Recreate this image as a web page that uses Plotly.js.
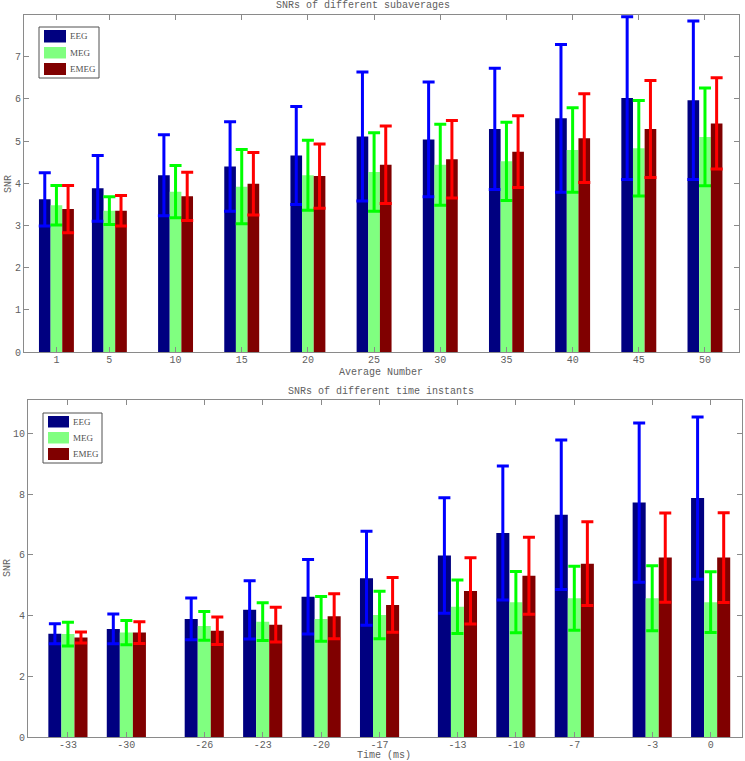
<!DOCTYPE html>
<html>
<head>
<meta charset="utf-8">
<script src="https://cdn.plot.ly/plotly-3.0.1.min.js"></script>
<style>html,body{margin:0;padding:0;background:#fff;}#chart{width:745px;height:761px;}</style>
</head>
<body>
<div id="chart"></div>
<script>
// ---- Data: SNRs of different subaverages ----
const avgNumbers = [1, 5, 10, 15, 20, 25, 30, 35, 40, 45, 50];
const avgLabels = ["1", "5", "10", "15", "20", "25", "30", "35", "40", "45", "50"];
const eegAvg = [3.62, 3.88, 4.19, 4.40, 4.66, 5.11, 5.04, 5.29, 5.54, 6.02, 5.97];
const eegAvgErr = [0.63, 0.78, 0.96, 1.06, 1.16, 1.53, 1.36, 1.44, 1.75, 1.93, 1.88];
const megAvg = [3.48, 3.35, 3.80, 3.92, 4.19, 4.27, 4.44, 4.52, 4.79, 4.83, 5.10];
const megAvgErr = [0.47, 0.33, 0.62, 0.88, 0.83, 0.93, 0.96, 0.93, 1.00, 1.13, 1.16];
const emegAvg = [3.39, 3.35, 3.69, 3.99, 4.17, 4.44, 4.57, 4.75, 5.07, 5.29, 5.42];
const emegAvgErr = [0.56, 0.36, 0.57, 0.74, 0.76, 0.92, 0.92, 0.85, 1.05, 1.15, 1.08];

// ---- Data: SNRs of different time instants ----
const timesMs = [-33, -30, -26, -23, -20, -17, -13, -10, -7, -3, 0];
const timeLabels = ["-33", "-30", "-26", "-23", "-20", "-17", "-13", "-10", "-7", "-3", "0"];
const eegTime = [3.40, 3.56, 3.89, 4.19, 4.62, 5.23, 5.98, 6.72, 7.32, 7.72, 7.87];
const eegTimeErr = [0.33, 0.49, 0.69, 0.96, 1.23, 1.55, 1.90, 2.21, 2.46, 2.62, 2.67];
const megTime = [3.39, 3.44, 3.66, 3.80, 3.89, 4.02, 4.29, 4.44, 4.57, 4.57, 4.44];
const megTimeErr = [0.39, 0.40, 0.47, 0.62, 0.74, 0.78, 0.88, 1.01, 1.05, 1.07, 1.00];
const emegTime = [3.28, 3.44, 3.50, 3.70, 3.98, 4.35, 4.81, 5.31, 5.71, 5.91, 5.91];
const emegTimeErr = [0.18, 0.36, 0.45, 0.57, 0.74, 0.90, 1.09, 1.27, 1.38, 1.47, 1.48];

const seriesNames = ["EEG", "MEG", "EMEG"];
const barColors = ["#000080", "#80FF80", "#800000"];
const errColors = ["#0000FF", "#00FF00", "#FF0000"];

const W = 745, H = 761;
const px = v => v / W;
const py = v => 1 - v / H;

function makeTraces(x, ys, errs, xa, ya, w) {
  const offs = [-1.5 * w, -0.5 * w, 0.5 * w];
  return ys.map((y, i) => ({
    type: "bar", x: x, y: y, name: seriesNames[i],
    xaxis: xa, yaxis: ya, width: w, offset: offs[i],
    marker: {color: barColors[i], line: {width: 0}},
    error_y: {type: "data", array: errs[i], visible: true, color: errColors[i], thickness: 3, width: 6},
    showlegend: false, hoverinfo: "x+y"
  }));
}

const traces = [].concat(
  makeTraces(avgNumbers, [eegAvg, megAvg, emegAvg], [eegAvgErr, megAvgErr, emegAvgErr], "x", "y", 0.88),
  makeTraces(timesMs, [eegTime, megTime, emegTime], [eegTimeErr, megTimeErr, emegTimeErr], "x2", "y2", 0.67)
);

const gray = "#8a8a8a";
const txt = "#606060";
const mono = "Liberation Mono, DejaVu Sans Mono, monospace";
const axBase = {
  showline: true, linecolor: gray, linewidth: 1, mirror: "ticks",
  ticks: "inside", ticklen: 5, tickcolor: gray, tickwidth: 1,
  showgrid: false, zeroline: false, fixedrange: true,
  tickfont: {family: mono, size: 10, color: txt}
};

const layout = {
  width: W, height: H,
  margin: {l: 0, r: 0, t: 0, b: 0},
  paper_bgcolor: "#ffffff", plot_bgcolor: "#ffffff",
  barmode: "overlay",
  showlegend: false,
  xaxis: Object.assign({}, axBase, {
    domain: [px(24), px(739)], range: [-1.45, 52.57], ticklabelstandoff: -2,
    tickmode: "array", tickvals: avgNumbers, ticktext: avgLabels, anchor: "y"
  }),
  yaxis: Object.assign({}, axBase, {
    domain: [py(352), py(15)], range: [0, 7.99], dtick: 1, tick0: 0, anchor: "x"
  }),
  xaxis2: Object.assign({}, axBase, {
    domain: [px(28), px(742)], range: [-35.05, 1.61], ticklabelstandoff: -2,
    tickmode: "array", tickvals: timesMs, ticktext: timeLabels, anchor: "y2"
  }),
  yaxis2: Object.assign({}, axBase, {
    domain: [py(737), py(400)], range: [0, 11.1], dtick: 2, tick0: 0, anchor: "x2"
  }),
  annotations: [],
  shapes: []
};

function addText(text, x, y, opts) {
  layout.annotations.push(Object.assign({
    text: text, xref: "paper", yref: "paper", x: px(x), y: py(y),
    xanchor: "center", yanchor: "middle", showarrow: false,
    font: {family: mono, size: 10, color: txt}
  }, opts || {}));
}

// titles
addText("SNRs of different subaverages", 363, 6);
addText("Average Number", 381, 372);
addText("SNR", 8, 184, {textangle: -90});
addText("SNRs of different time instants", 381, 391);
addText("Time (ms)", 384, 755);
addText("SNR", 7, 568, {textangle: -90});

// legends (drawn as boxes in paper space)
function addLegend(x0, y0, x1, y1, rx0, rx1, rows, tx) {
  layout.shapes.push({type: "rect", xref: "paper", yref: "paper",
    x0: px(x0), x1: px(x1), y0: py(y1), y1: py(y0),
    line: {color: "#505050", width: 1}, fillcolor: "#ffffff"});
  rows.forEach((r, i) => {
    layout.shapes.push({type: "rect", xref: "paper", yref: "paper",
      x0: px(rx0), x1: px(rx1), y0: py(r[1]), y1: py(r[0]),
      line: {width: 0}, fillcolor: barColors[i]});
    addText(seriesNames[i], tx, (r[0] + r[1]) / 2, {xanchor: "left",
      font: {family: "Liberation Serif, DejaVu Serif, serif", size: 9, color: "#505050"}});
  });
}
addLegend(39, 27, 99, 78, 44, 66, [[30, 42.5], [47, 58.5], [63, 75]], 68);
addLegend(43, 413, 102, 463, 48, 69, [[416, 427.5], [432, 443.5], [448, 460]], 71);

Plotly.newPlot("chart", traces, layout, {displayModeBar: false, staticPlot: true});
</script>
</body>
</html>
